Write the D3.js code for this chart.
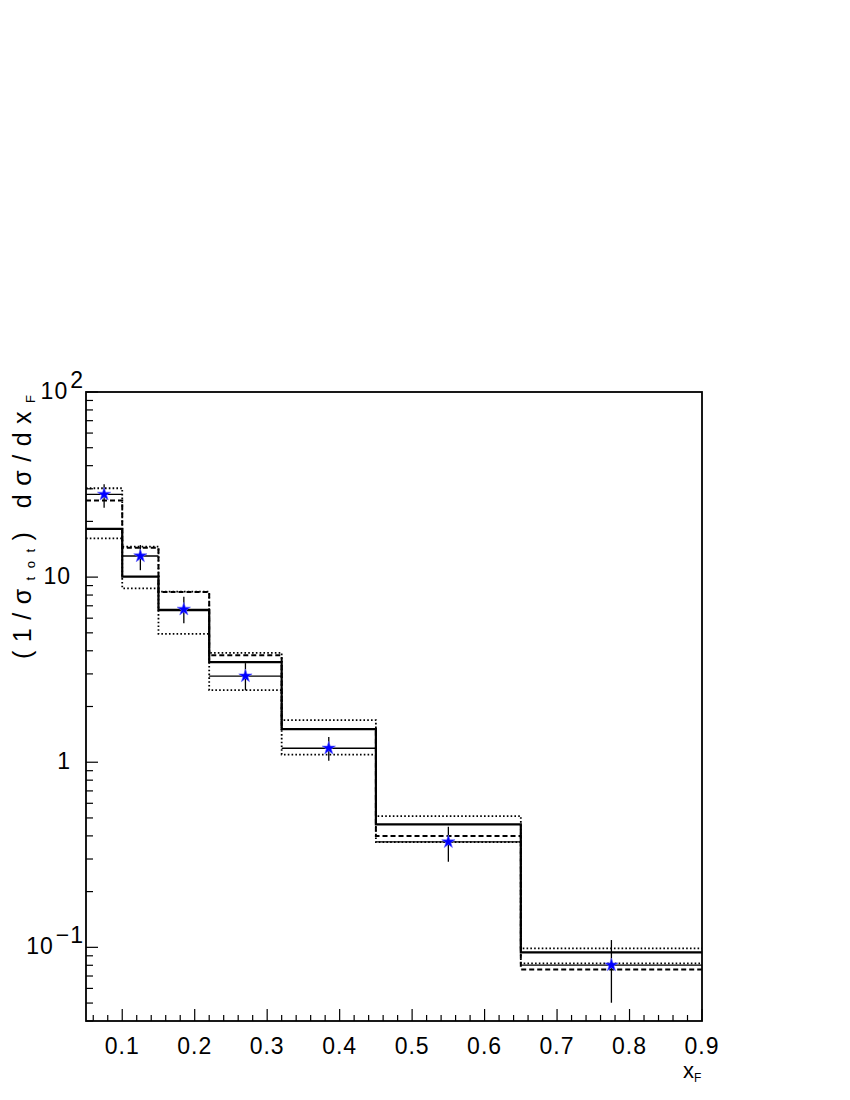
<!DOCTYPE html>
<html><head><meta charset="utf-8">
<script src="https://cdn.jsdelivr.net/npm/d3@7/dist/d3.min.js"></script>
<style>
body{margin:0;background:#fff}
svg{display:block}
text{font-family:"Liberation Sans",Arial,Helvetica,sans-serif;fill:#000}
</style>
</head><body>
<svg id="c" width="850" height="1100"></svg>
<script>
// ---- data ----
const binEdges    = [0.05, 0.10, 0.15, 0.22, 0.32, 0.45, 0.65, 0.90];
const solidHist   = [18.2, 10.05, 6.64, 3.47, 1.51, 0.462, 0.094];
const dashedHist  = [25.9, 14.4, 8.30, 3.78, 1.51, 0.399, 0.076];
const dottedUpper = [30.2, 14.6, 8.34, 3.90, 1.69, 0.512, 0.0988];
const dottedLower = [16.2, 8.70, 4.93, 2.45, 1.10, 0.370, 0.082];
const dataX       = [0.075, 0.125, 0.185, 0.27, 0.385, 0.55, 0.775];
const dataY       = [28.0, 13.0, 6.70, 2.92, 1.19, 0.371, 0.0802];
const dataErrHi   = [31.7, 14.9, 7.84, 3.43, 1.37, 0.448, 0.1095];
const dataErrLo   = [23.7, 10.9, 5.63, 2.45, 1.02, 0.290, 0.0502];
const xTickValues = [0.1, 0.2, 0.3, 0.4, 0.5, 0.6, 0.7, 0.8, 0.9];
const xTickLabels = ["0.1","0.2","0.3","0.4","0.5","0.6","0.7","0.8","0.9"];
const yTickValues = [100, 10, 1, 0.1];
const yTickBase   = ["10", "10", "1", "10"];
const yTickSup    = ["2", "", "", "\u22121"];

// ---- layout ----
const L = 86, R = 702, T = 392, B = 1021;
const svg = d3.select("#c");
const x = d3.scaleLinear().domain([0.05, 0.9]).range([L, R]);
const y = d3.scaleLog().domain([0.04, 100]).range([B, T]);

const g = svg.append("g");

function stepPts(vals){
  return binEdges.map((e,i)=>[e, vals[Math.min(i, vals.length-1)]]);
}
const line = d3.line().x(d=>x(d[0])).y(d=>y(d[1])).curve(d3.curveStepAfter);
const hists = [
  {v: dottedLower, w: 1.8, dash: "1.6,2.2"},
  {v: dottedUpper, w: 1.8, dash: "1.6,2.2"},
  {v: dashedHist,  w: 2.0, dash: "5,3"},
  {v: solidHist,   w: 2.2, dash: null}
];
hists.forEach(h=>{
  g.append("path").attr("d", line(stepPts(h.v)))
   .attr("fill","none").attr("stroke","#000")
   .attr("stroke-width", h.w)
   .attr("stroke-dasharray", h.dash);
});

dataX.forEach((xv,i)=>{
  g.append("line")
   .attr("x1", x(binEdges[i])).attr("x2", x(binEdges[i+1]))
   .attr("y1", y(dataY[i])).attr("y2", y(dataY[i]))
   .attr("stroke","#000").attr("stroke-width",1.3);
  g.append("line")
   .attr("x1", x(xv)).attr("x2", x(xv))
   .attr("y1", y(dataErrHi[i])).attr("y2", y(dataErrLo[i]))
   .attr("stroke","#000").attr("stroke-width",1.3);
});
const star = d3.symbol().type(d3.symbolStar).size(55);
dataX.forEach((xv,i)=>{
  g.append("path").attr("d", star())
   .attr("transform", `translate(${x(xv)},${y(dataY[i])})`)
   .attr("fill","#0000ff").attr("stroke","#6a6aff").attr("stroke-width",0.6);
});

svg.append("rect").attr("x",L).attr("y",T).attr("width",R-L).attr("height",B-T)
  .attr("fill","none").attr("stroke","#000").attr("stroke-width",1.8);

const xMinor = d3.range(0.06, 0.9, 0.02).filter(v=>Math.abs(v*10-Math.round(v*10))>1e-6);
xMinor.forEach(v=>{
  svg.append("line").attr("x1",x(v)).attr("x2",x(v)).attr("y1",B).attr("y2",B-6)
    .attr("stroke","#000").attr("stroke-width",1.2);
});
xTickValues.forEach((v,i)=>{
  svg.append("line").attr("x1",x(v)).attr("x2",x(v)).attr("y1",B).attr("y2",B-12)
    .attr("stroke","#000").attr("stroke-width",1.2);
  svg.append("text").attr("x",x(v)).attr("y",1054).attr("text-anchor","middle")
    .attr("font-size",23).attr("letter-spacing",1).text(xTickLabels[i]);
});

const yMinor = [];
[0.01,0.1,1,10].forEach(dec=>{ for(let k=2;k<=9;k++){ const v=k*dec; if(v>=0.04 && v<100) yMinor.push(v);} });
yMinor.forEach(v=>{
  svg.append("line").attr("x1",L).attr("x2",L+7).attr("y1",y(v)).attr("y2",y(v))
    .attr("stroke","#000").attr("stroke-width",1.2);
});
yTickValues.forEach((v,i)=>{
  svg.append("line").attr("x1",L).attr("x2",L+12).attr("y1",y(v)).attr("y2",y(v))
    .attr("stroke","#000").attr("stroke-width",1.2);
  const t = svg.append("text").attr("x", yTickSup[i] ? 84 : 71).attr("y", y(v)+7)
    .attr("text-anchor","end").attr("font-size",23).attr("letter-spacing",1);
  t.append("tspan").text(yTickBase[i]);
  if (yTickSup[i]) {
    t.append("tspan").attr("dx",2).attr("dy",-11).text(yTickSup[i]);
  }
});

const xt = svg.append("text").attr("x",683).attr("y",1078).attr("font-size",22);
xt.append("tspan").text("x");
xt.append("tspan").attr("dy",4).attr("font-size",12).text("F");

const yt = svg.append("text").attr("transform","translate(31,527) rotate(-90)")
  .attr("text-anchor","middle").attr("font-size",25)
  .attr("textLength",264).attr("lengthAdjust","spacing");
yt.append("tspan").text("(1/\u03c3");
yt.append("tspan").attr("dy",4).attr("font-size",13).text("tot");
yt.append("tspan").attr("dy",-4).text(") d\u03c3/dx");
yt.append("tspan").attr("dy",4).attr("font-size",13).text("F");
</script>
</body></html>
